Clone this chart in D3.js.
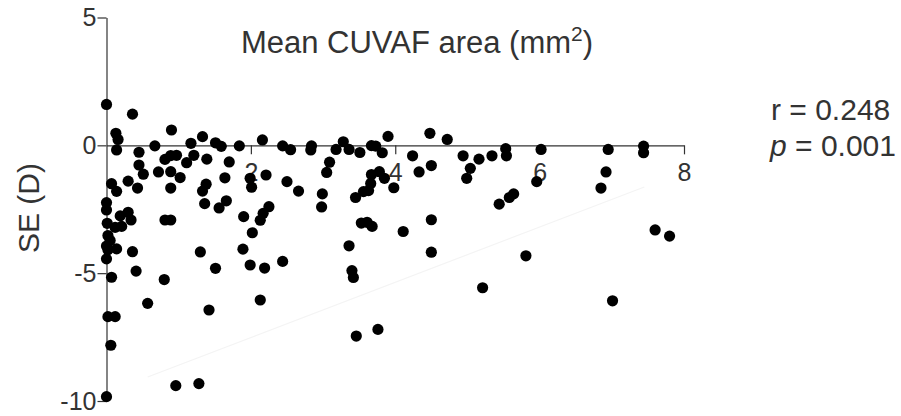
<!DOCTYPE html>
<html>
<head>
<meta charset="utf-8">
<script src="https://cdn.jsdelivr.net/npm/d3@7"></script>
<style>
  body { margin: 0; background: #fff; }
  svg { display: block; font-family: "Liberation Sans", Arial, sans-serif; }
</style>
</head>
<body>
<div id="chart"></div>
<script>
// scatter: mean CUVAF area vs SE

const areaVals = [
  0.00, 0.36, 0.13, 0.16, 0.14, 0.90, 0.67, 0.45, 0.45, 0.51,
  0.30, 0.81, 0.89, 0.97, 0.72, 0.89, 1.02, 1.11, 1.21, 1.17,
  1.33, 1.39, 1.51, 1.59, 1.70, 1.64, 0.07, 0.14, 0.43, 0.89,
  1.38, 1.33, 0.00, 0.00, 0.30, 0.19, 0.34, 0.01, 0.21, 0.12,
  0.81, 0.89, 1.36, 1.66, 1.56, 0.02, 0.05, 0.00, 0.02, 0.14,
  0.36, 0.00, 1.30, 0.07, 0.41, 0.80, 1.51, 0.57, 1.42, 0.02,
  0.12, 0.06, 0.96, 1.28, 0.00, 2.25, 2.17, 2.13, 1.90, 2.02,
  1.89, 1.99, 2.19, 2.44, 2.13, 1.99, 2.01, 2.21, 2.50, 2.66,
  2.16, 1.84, 2.44, 2.55, 2.84, 2.83, 3.05, 2.99, 2.98, 3.45,
  3.56, 3.53, 3.36, 3.40, 3.42, 3.28, 3.18, 3.36, 3.09, 3.51,
  3.67, 3.73, 3.82, 3.90, 3.67, 3.78, 3.85, 3.66, 3.63, 3.98,
  3.61, 3.68, 4.11, 4.50, 4.50, 3.46, 3.76, 4.24, 4.33, 4.50,
  4.48, 4.72, 4.94, 5.04, 4.99, 5.16, 5.34, 5.53, 5.54, 6.02,
  5.96, 5.44, 5.58, 5.64, 5.81, 5.21, 6.95, 6.92, 6.85, 7.44,
  7.44, 7.60, 7.80, 7.01
];

const seVals = [
  1.60, 1.22, 0.47, 0.23, -0.18, 0.60, -0.02, -0.27, -0.77, -1.13,
  -1.40, -0.55, -0.40, -0.39, -1.04, -1.03, -1.26, -0.68, -0.39, 0.08,
  0.34, -0.54, 0.10, -0.04, -0.65, -1.27, -1.50, -1.80, -1.67, -1.67,
  -1.52, -1.79, -2.24, -2.53, -2.62, -2.76, -2.92, -3.05, -3.17, -3.21,
  -2.92, -2.92, -2.28, -2.17, -2.45, -3.53, -3.72, -3.94, -4.09, -4.05,
  -4.16, -4.44, -4.17, -5.16, -4.92, -5.25, -4.81, -6.18, -6.44, -6.70,
  -6.70, -7.82, -9.40, -9.32, -9.83, -2.40, -2.66, -2.93, -2.79, -3.42,
  -4.06, -4.68, -4.80, -4.54, -6.05, -1.29, -1.64, -1.16, -1.42, -1.79,
  0.21, -0.02, -0.02, -0.17, -0.02, -0.18, -1.06, -1.90, -2.41, -2.04,
  -1.81, -3.04, -3.93, -4.90, -5.17, 0.14, -0.16, -0.16, -0.66, -0.28,
  -0.01, -0.03, -0.29, 0.35, -1.14, -1.03, -1.29, -1.49, -1.77, -1.66,
  -3.01, -3.17, -3.37, -2.91, -4.18, -7.46, -7.20, -0.41, -1.04, -0.79,
  0.47, 0.23, -0.41, -0.90, -1.29, -0.54, -0.41, -0.13, -0.41, -0.16,
  -1.42, -2.30, -2.04, -1.90, -4.32, -5.57, -0.16, -1.04, -1.67, -0.03,
  -0.29, -3.31, -3.55, -6.08
];

// faint fit line end points
const fitX = [0.57, 7.45];
const fitY = [-9.06, -1.63];

const xTicks = [2, 4, 6, 8];
const yTicks = [-10, -5, 0, 5];
const statLines = ["r = 0.248", "p = 0.001"];

const width = 901, height = 416;

const svg = d3.select('#chart')
    .append('svg')
    .attr('width', width)
    .attr('height', height);

const x = d3.scaleLinear().domain([0, 8]).range([106.5, 684]);
const y = d3.scaleLinear().domain([-10, 5]).range([401, 17.5]);

// plain hyphen for negatives, like the original
const hyphenFmt = d => String(d);

// y axis
const yAxis = svg.append('g')
    .attr('transform', `translate(${x(0)},0)`)
    .call(d3.axisLeft(y).tickValues(yTicks).tickSize(9).tickPadding(1).tickSizeOuter(0).tickFormat(hyphenFmt));

// x axis sits at y = 0
const xAxis = svg.append('g')
    .attr('transform', `translate(0,${y(0)})`)
    .call(d3.axisBottom(x).tickValues(xTicks).tickSize(9).tickPadding(9).tickSizeOuter(0).tickFormat(hyphenFmt));

[xAxis, yAxis].forEach(g => {
    g.select('.domain').attr('stroke', '#333').attr('stroke-width', 1.2);
    g.selectAll('.tick line').attr('stroke', '#333').attr('stroke-width', 1.2);
    g.selectAll('.tick text')
        .attr('fill', '#333')
        .style('font-size', '25px')
        .style('font-family', '"Liberation Sans", Arial, sans-serif');
});

// fit line, barely visible
svg.append('line')
    .attr('x1', x(fitX[0])).attr('y1', y(fitY[0]))
    .attr('x2', x(fitX[1])).attr('y2', y(fitY[1]))
    .attr('stroke', '#f4f4f4')
    .attr('stroke-width', 1.2);

// dots
const points = areaVals.map((a, i) => ({ a: a, se: seVals[i] }));
svg.append('g')
    .selectAll('circle')
    .data(points)
    .join('circle')
    .attr('cx', d => x(d.a))
    .attr('cy', d => y(d.se))
    .attr('r', 5.6)
    .attr('fill', '#000');

// title inside plot
const title = svg.append('text')
    .attr('x', 417)
    .attr('y', 52.5)
    .attr('text-anchor', 'middle')
    .attr('fill', '#333')
    .style('font-size', '31px');
title.append('tspan').text('Mean CUVAF area (mm');
title.append('tspan').attr('dy', -12).style('font-size', '21px').text('2');
title.append('tspan').attr('dy', 12).text(')');

// y label
svg.append('text')
    .attr('transform', 'translate(39,208) rotate(-90)')
    .attr('text-anchor', 'middle')
    .attr('fill', '#333')
    .style('font-size', '30px')
    .text('SE (D)');

// stats
svg.append('text')
    .attr('x', 771)
    .attr('y', 119.5)
    .attr('fill', '#333')
    .style('font-size', '30px')
    .text(statLines[0]);

const pText = svg.append('text')
    .attr('x', 770)
    .attr('y', 156)
    .attr('fill', '#333')
    .style('font-size', '30px');
pText.append('tspan').style('font-style', 'italic').text(statLines[1].slice(0, 1));
pText.append('tspan').text(statLines[1].slice(1));
</script>
</body>
</html>
